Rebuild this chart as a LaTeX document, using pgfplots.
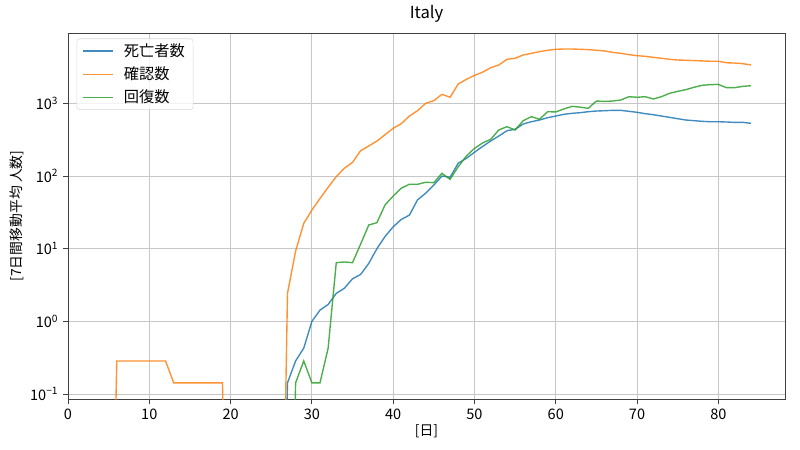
\documentclass[border=0pt]{standalone}
\usepackage{pgfplots}
\pgfplotsset{compat=1.18}
\usepackage{fontspec}
\setmainfont{Noto Sans CJK JP}
\definecolor{tabblue}{HTML}{1F77B4}
\definecolor{taborange}{HTML}{FF7F0E}
\definecolor{tabgreen}{HTML}{2CA02C}
\begin{document}
\begin{tikzpicture}
\path[use as bounding box] (0,0) rectangle (8in,4.5in);
\begin{axis}[
  at={(0.68in,0.51in)}, anchor=south west,
  scale only axis, width=7.17in, height=3.66in,
  ymode=log, log basis y=10,
  xmin=0, xmax=88.2, ymin=0.0857, ymax=9270,
  xtick={0,10,...,80},
  ytick={0.1,1,10,100,1000},
  yticklabels={10\textsuperscript{−1},10\textsuperscript{0},10\textsuperscript{1},10\textsuperscript{2},10\textsuperscript{3}},
  /pgf/number format/assume math mode=true,
  tick label style={font=\fontsize{10.5}{12}\selectfont},
  xtick pos=bottom, ytick pos=left, tick align=outside,
  major tick length=3.5pt, minor tick length=2pt,
  every tick/.style={black!75, line width=0.6pt},
  grid=major,
  major grid style={line width=0.6pt, color=black!22},
  minor grid style={draw=none},
  axis line style={black!75, line width=0.6pt},
  title={Italy}, title style={font=\fontsize{12}{14}\selectfont, yshift=-2pt},
  xlabel={[日]}, ylabel={[7日間移動平均 人数]},
  label style={font=\fontsize{10}{12}\selectfont},
  xlabel style={yshift=3pt},
  ylabel style={yshift=-2pt},
  legend style={at={(0.012,0.985)}, anchor=north west, draw=black!15, rounded corners=2pt,
    fill=white, fill opacity=0.8, text opacity=1, font=\fontsize{11}{13}\selectfont,
    inner xsep=4pt, inner ysep=1.5pt, row sep=2pt},
  legend cell align=left,
  legend image code/.code={\draw[#1, line width=1pt] (0cm,0cm) -- (0.75cm,0cm); \path (0.95cm,0cm);},
  every axis plot/.append style={line width=1pt, draw opacity=0.85},
]
\addplot[tabblue] coordinates {
(26,1e-6) (27,0.143) (28,0.286) (29,0.429) (30,1.0) (31,1.43) (32,1.71) (33,2.43) (34,2.86) (35,3.86)
(36,4.43) (37,6.29) (38,10.0) (39,14.7) (40,20.0) (41,25.3) (42,29.0) (43,47) (44,58) (45,75)
(46,100) (47,96) (48,150) (49,175) (50,212) (51,255) (52,303) (53,355) (54,420) (55,439)
(56,519) (57,558) (58,589) (59,634) (60,668) (61,706) (62,728) (63,743) (64,767) (65,783)
(66,791) (67,800) (68,800) (69,776) (70,752) (71,720) (72,697) (73,668) (74,641) (75,614)
(76,589) (77,577) (78,565) (79,558) (80,558) (81,553) (82,547) (83,547) (84,531)
};
\addlegendentry{死亡者数}
\addplot[taborange] coordinates {
(0,1e-6) (5,1e-6) (6,0.286) (7,0.286) (8,0.286) (9,0.286) (10,0.286) (11,0.286) (12,0.286)
(13,0.143) (14,0.143) (15,0.143) (16,0.143) (17,0.143) (18,0.143) (19,0.143) (20,1e-6) (26,1e-6)
(27,2.43) (28,9.3) (29,22.3) (30,34) (31,49) (32,70) (33,98) (34,128) (35,154)
(36,223) (37,259) (38,302) (39,370) (40,453) (41,525) (42,668) (43,791) (44,1000) (45,1086)
(46,1330) (47,1210) (48,1842) (49,2136) (50,2420) (51,2680) (52,3090) (53,3370) (54,4030) (55,4160)
(56,4620) (57,4870) (58,5130) (59,5360) (60,5530) (61,5580) (62,5580) (63,5530) (64,5480) (65,5360)
(66,5250) (67,5020) (68,4870) (69,4670) (70,4520) (71,4430) (72,4290) (73,4160) (74,4030) (75,3940)
(76,3910) (77,3870) (78,3830) (79,3790) (80,3790) (81,3610) (82,3580) (83,3510) (84,3370)
};
\addlegendentry{確認数}
\addplot[tabgreen] coordinates {
(27,1e-6) (28,0.143) (29,0.286) (30,0.143) (31,0.143) (32,0.429) (33,6.43) (34,6.57) (35,6.43)
(36,11.6) (37,21.2) (38,22.8) (39,40) (40,53) (41,68) (42,77) (43,77) (44,82) (45,81)
(46,109) (47,90) (48,134) (49,188) (50,240) (51,285) (52,320) (53,430) (54,477) (55,430)
(56,577) (57,655) (58,603) (59,767) (60,760) (61,836) (62,908) (63,885) (64,853) (65,1075)
(66,1060) (67,1075) (68,1110) (69,1233) (70,1210) (71,1233) (72,1146) (73,1233) (74,1372) (75,1461)
(76,1540) (77,1660) (78,1770) (79,1805) (80,1820) (81,1640) (82,1640) (83,1710) (84,1745)
};
\addlegendentry{回復数}
\end{axis}
\end{tikzpicture}
\end{document}
